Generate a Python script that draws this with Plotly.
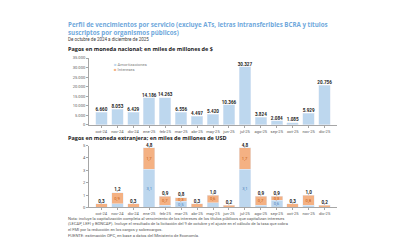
import plotly.graph_objects as go

meses = ["oct-24", "nov-24", "dic-24", "ene-25", "feb-25", "mar-25", "abr-25", "may-25",
         "jun-25", "jul-25", "ago-25", "sep-25", "oct-25", "nov-25", "dic-25"]

# Moneda nacional (miles de millones de $)
pesos_total = [6660, 8053, 6429, 14186, 14263, 6556, 4497, 5420, 10366, 30327, 3824, 2084, 1085, 5929, 20756]

# Moneda extranjera (miles de millones de USD)
usd_amort = [0.0, 0.3, 0.0, 3.1, 0.2, 0.5, 0.0, 0.4, 0.0, 3.1, 0.2, 0.6, 0.0, 0.2, 0.0]
usd_int = [0.3, 0.9, 0.3, 1.7, 0.7, 0.3, 0.3, 0.6, 0.2, 1.7, 0.7, 0.3, 0.3, 0.8, 0.2]
usd_total = [0.3, 1.2, 0.3, 4.8, 0.9, 0.8, 0.3, 1.0, 0.2, 4.8, 0.9, 0.9, 0.3, 1.0, 0.2]

y1_ticks = [0, 5000, 10000, 15000, 20000, 25000, 30000, 35000]
y2_ticks = [0, 1, 2, 3, 4, 5]

BLUE = "#BDD7EE"
ORANGE = "#F4B183"
AX = "#A6A6A6"
FONT = "Roboto, Liberation Sans, sans-serif"

amort_txt = [f"{v:.1f}".replace(".", ",") if v >= 0.5 else "" for v in usd_amort]
int_txt = [f"{v:.1f}".replace(".", ",") if a > 0.1 else "" for v, a in zip(usd_int, usd_amort)]

fig = go.Figure()

fig.add_trace(go.Bar(x=meses, y=pesos_total, marker_color=BLUE, name="Amortizaciones",
                     xaxis="x", yaxis="y", showlegend=False))
fig.add_trace(go.Scatter(x=meses, y=pesos_total, mode="text", texttemplate="%{y:,.0f}",
                         textposition="top center", xaxis="x", yaxis="y", showlegend=False,
                         textfont=dict(size=4.6, color="#262626", family=FONT, weight="bold"),
                         cliponaxis=False))

fig.add_trace(go.Bar(x=meses, y=usd_amort, marker_color=BLUE, name="Amortizaciones",
                     text=amort_txt, textposition="inside", insidetextanchor="middle",
                     textangle=0, textfont=dict(size=4.2, color="#4A7EBB", family=FONT),
                     xaxis="x2", yaxis="y2", showlegend=False))
fig.add_trace(go.Bar(x=meses, y=usd_int, marker_color=ORANGE, name="Intereses",
                     text=int_txt, textposition="inside", insidetextanchor="middle",
                     textangle=0, textfont=dict(size=4.2, color="#C55A11", family=FONT),
                     xaxis="x2", yaxis="y2", showlegend=False))
fig.add_trace(go.Scatter(x=meses, y=usd_total, mode="text", texttemplate="%{y:.1f}",
                         textposition="top center", xaxis="x2", yaxis="y2", showlegend=False,
                         textfont=dict(size=4.6, color="#262626", family=FONT, weight="bold"),
                         cliponaxis=False))

axis_common = dict(showgrid=False, zeroline=False, showline=True, linecolor=AX, linewidth=0.8,
                   ticks="outside", ticklen=2, tickcolor=AX, tickwidth=0.8,
                   tickfont=dict(size=4.1, color="#595959", family=FONT))

fig.update_layout(
    width=400, height=250,
    margin=dict(l=0, r=0, t=0, b=0),
    paper_bgcolor="white", plot_bgcolor="white",
    barmode="stack", bargap=0.28,
    separators=",.",
    uniformtext=dict(mode="show", minsize=4),
    xaxis=dict(domain=[0.2025, 0.8225], anchor="y", tickangle=0, ticklabelstandoff=0, **axis_common),
    yaxis=dict(domain=[0.536, 0.808], range=[0, 35000], tickvals=y1_ticks, tickformat=",.0f",
               anchor="x", **axis_common),
    xaxis2=dict(domain=[0.2025, 0.8225], anchor="y2", tickangle=0, ticklabelstandoff=0, **axis_common),
    yaxis2=dict(domain=[0.198, 0.451], range=[0, 5], tickvals=y2_ticks, anchor="x2", **axis_common),
    font=dict(family=FONT),
)

def note(text, x, y, size, color="#404040", bold=False, fam=FONT, yanchor="middle"):
    fig.add_annotation(text=text, x=x, y=y, xref="paper", yref="paper", xanchor="left",
                       yanchor=yanchor, showarrow=False, align="left", borderpad=0,
                       font=dict(size=size, color=color, family=fam, weight="bold" if bold else "normal"))

TITLE_FONT = "Open Sans, sans-serif"
note("Perfil de vencimientos por servicio (excluye ATs, letras intransferibles BCRA y títulos<br>"
     "suscriptos por organismos públicos)", 0.148, 1 - 8 / 250, 6.2, "#6FA8DC", True, TITLE_FONT, "top")
note("De octubre de 2024 a diciembre de 2025", 0.148, 1 - 29 / 250, 4.5, "#404040")
note("Pagos en moneda nacional; en miles de millones de $", 0.148, 1 - 38.5 / 250, 5.5, "#1a1a1a", True, TITLE_FONT)
note("Pagos en moneda extranjera; en miles de millones de USD", 0.148, 1 - 129.5 / 250, 5.5, "#1a1a1a", True, TITLE_FONT)

note(f"<span style='color:{BLUE}'>■</span> Amortizaciones<br>"
     f"<span style='color:{ORANGE}'>■</span> Intereses", 0.262, 1 - 51 / 250, 4.2, "#7f7f7f",
     yanchor="top")

note("Nota: incluye la capitalización completa al vencimiento de los intereses de los títulos públicos que capitalizan intereses<br>"
     "(LECAP, LEFI y BONCAP). Incluye el resultado de la licitación del 9 de octubre y el ajuste en el cálculo de la tasa que cobra<br>"
     "el FMI por la reducción en los cargos y sobrecargos.",
     0.148, 1 - 208.3 / 250, 4.1, "#595959", yanchor="top")
note("FUENTE: estimación OPC, en base a datos del Ministerio de Economía.", 0.148, 1 - 229.5 / 250, 4.2, "#595959")

fig.write_html("out.html")
